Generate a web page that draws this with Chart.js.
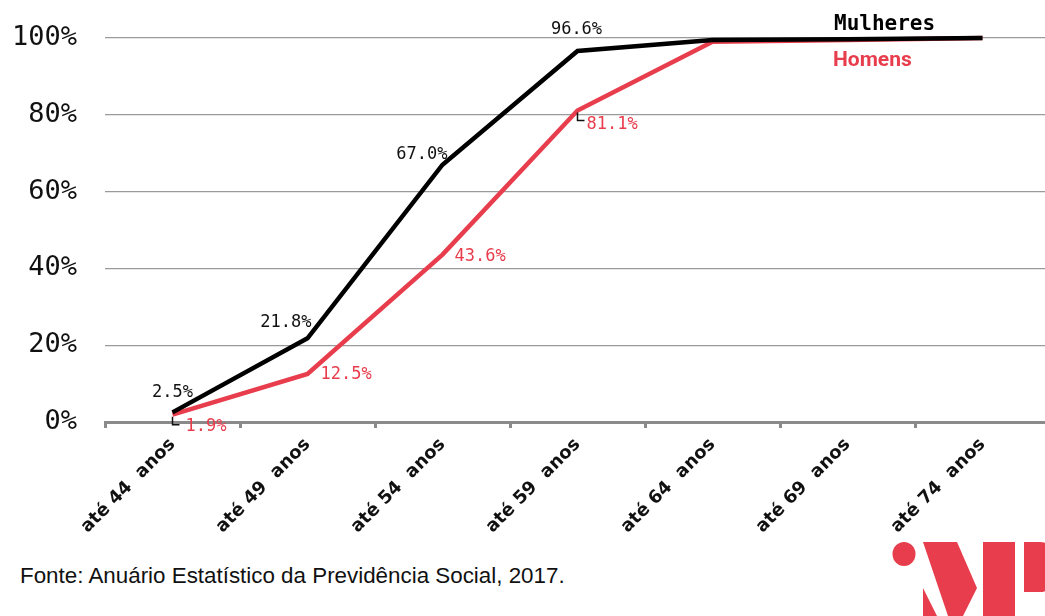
<!DOCTYPE html>
<html>
<head>
<meta charset="utf-8">
<script src="https://cdn.jsdelivr.net/npm/chart.js@4.4.1/dist/chart.umd.min.js"></script>
<style>
  html, body { margin: 0; padding: 0; background: #fff; overflow: hidden; width: 1045px; height: 616px; }
  #wrap { position: absolute; left: 0; top: 0; width: 1050px; height: 545px; }
  #fonte { position: absolute; left: 20px; top: 563px; font-family: "Liberation Sans", Arial, sans-serif; font-size: 22px; color: #111; white-space: nowrap; transform-origin: 0 0; }
  #logo { position: absolute; left: 880px; top: 530px; }
</style>
</head>
<body>
<div id="wrap"><canvas id="chart" width="1050" height="545"></canvas></div>
<div id="fonte">Fonte: Anuário Estatístico da Previdência Social, 2017.</div>
<svg id="logo" width="165" height="86" viewBox="0 0 165 86">
  <g fill="#E83D4C">
    <ellipse cx="24" cy="24" rx="11.5" ry="12"/>
    <polygon points="43,12 77,12 97,58 83,86 68,86"/>
    <polygon points="43,58 43,86 57,86"/>
    <rect x="103" y="12" width="32" height="74"/>
    <path d="M144,12 L160,12 Q175,12 175,37 Q175,62 160,62 L144,62 Z"/>
  </g>
</svg>
<script>
// faixas etarias (acumulado)
const categories = ["até 44  anos", "até 49  anos", "até 54  anos", "até 59  anos", "até 64  anos", "até 69  anos", "até 74  anos"];
const mulheres = [2.5, 21.8, 67.0, 96.6, 99.5, 99.7, 100];
const homens = [1.9, 12.5, 43.6, 81.1, 99.0, 99.5, 100];
const yTicks = [0, 20, 40, 60, 80, 100];

// which points get a value label
const mulheresLabels = ["2.5%", "21.8%", "67.0%", "96.6%", null, null, null];
const homensLabels = ["1.9%", "12.5%", "43.6%", "81.1%", null, null, null];

const RED = "#E83D4C";
const MONO = '"DejaVu Sans Mono", "Liberation Mono", monospace';

//label placement around the point: [dx, dy, align]
const mulheresPos = [[0, -20, "center"], [4, -16, "right"], [5, -10, "right"], [-1, -21, "center"]];
const homensPos = [[13, 12, "left"], [13, 1, "left"], [12, 2, "left"], [9, 14, "left"]];
const leaders = [true, false, false, true];

const labelPlugin = {
    id: "labels",
    afterDatasetsDraw(chart){
        const ctx = chart.ctx;
        ctx.save();
        ctx.font = "17px " + MONO;
        ctx.textBaseline = "middle";

        const metaM = chart.getDatasetMeta(0);
        metaM.data.forEach((pt, i) => {
            if(!mulheresLabels[i]) return;
            const p = mulheresPos[i];
            ctx.fillStyle = "#111";
            ctx.textAlign = p[2];
            ctx.fillText(mulheresLabels[i], pt.x + p[0], pt.y + p[1]);
        });

        const metaH = chart.getDatasetMeta(1);
        metaH.data.forEach((pt, i) => {
            if(!homensLabels[i]) return;
            const p = homensPos[i];
            if(leaders[i]){
                ctx.strokeStyle = "#111";
                ctx.lineWidth = 1.5;
                ctx.beginPath();
                ctx.moveTo(pt.x, pt.y + 2);
                ctx.lineTo(pt.x, pt.y + 10);
                ctx.lineTo(pt.x + 7, pt.y + 10);
                ctx.stroke();
            }
            ctx.fillStyle = RED;
            ctx.textAlign = p[2];
            ctx.fillText(homensLabels[i], pt.x + p[0], pt.y + p[1]);
        });

        // legend
        ctx.textAlign = "left";
        ctx.textBaseline = "alphabetic";
        ctx.font = "bold 21px " + MONO;
        ctx.fillStyle = "#000";
        ctx.fillText("Mulheres", 834, 30);
        ctx.font = "bold 21px Roboto, sans-serif";
        ctx.fillStyle = RED;
        ctx.fillText("Homens", 833, 66);
        ctx.restore();
    }
};

new Chart(document.getElementById("chart").getContext("2d"), {
    type: "line",
    data: {
        labels: categories,
        datasets: [
            {
                label: "Mulheres",
                data: mulheres,
                borderColor: "#000",
                borderWidth: 4.5,
                pointRadius: 0,
                tension: 0,
                clip: false
            },
            {
                label: "Homens",
                data: homens,
                borderColor: RED,
                borderWidth: 4.5,
                pointRadius: 0,
                tension: 0,
                clip: false
            }
        ]
    },
    options: {
        responsive: false,
        animation: false,
        layout: { padding: { top: 38, left: 0, right: 0, bottom: 0 } },
        plugins: {
            legend: { display: false },
            tooltip: { enabled: false }
        },
        scales: {
            x: {
                offset: true,
                grid: {
                    offset: true,
                    drawOnChartArea: false,
                    drawTicks: true,
                    tickLength: 6,
                    lineWidth: 3,
                    color: "#8a8a8a"
                },
                border: { display: true, color: "#8a8a8a", width: 3 },
                ticks: {
                    color: "#111",
                    font: { family: '"DejaVu Sans", Verdana, sans-serif', size: 18, weight: "bold" },
                    minRotation: 45,
                    maxRotation: 45,
                    padding: 6
                },
                afterFit(scale){ scale.height = 123; }
            },
            y: {
                min: 0,
                max: 100,
                afterBuildTicks(scale){ scale.ticks = yTicks.map(v => ({value: v})); },
                grid: {
                    // invisible tick marks keep the labels away from the axis
                    drawTicks: true,
                    tickLength: 28,
                    tickColor: "rgba(0,0,0,0)",
                    color: "#9a9a9a",
                    lineWidth: 1.3
                },
                border: { display: false },
                ticks: {
                    color: "#111",
                    font: { family: MONO, size: 27 },
                    padding: 0,
                    callback: v => v + "%"
                },
                afterFit(scale){ scale.width = 105; }
            }
        }
    },
    plugins: [labelPlugin]
});

// squeeze the source line to the reference width
const fonte = document.getElementById("fonte");
fonte.style.transform = "scaleX(" + (545 / fonte.offsetWidth) + ")";
</script>
</body>
</html>
